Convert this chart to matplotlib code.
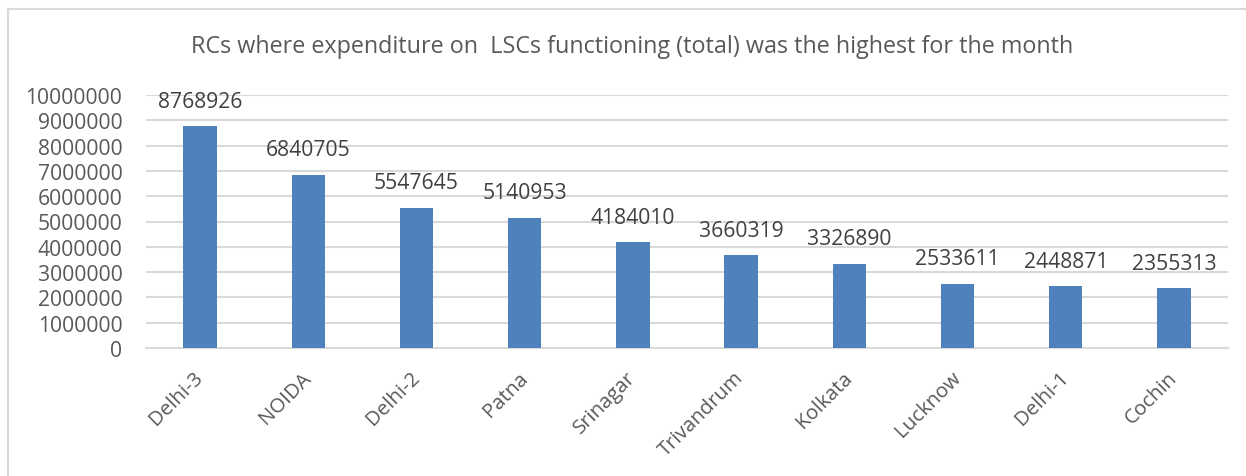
import matplotlib
matplotlib.use("Agg")
import matplotlib.pyplot as plt
import matplotlib.transforms as mtransforms
from matplotlib.lines import Line2D

# data
rcs = ["Delhi-3", "NOIDA", "Delhi-2", "Patna", "Srinagar",
       "Trivandrum", "Kolkata", "Lucknow", "Delhi-1", "Cochin"]
expenditure = [8768926, 6840705, 5547645, 5140953, 4184010,
               3660319, 3326890, 2533611, 2448871, 2355313]
yticks = list(range(0, 10000001, 1000000))

title = "RCs where expenditure on  LSCs functioning (total) was the highest for the month"

plt.rcParams["font.family"] = ["Open Sans", "DejaVu Sans"]

W, H = 1246, 477
fig = plt.figure(figsize=(W / 100, H / 100), dpi=100)
ax = fig.add_axes([146 / W, 1 - 349 / H, (1228 - 146) / W, (349 - 96) / H])

x = range(len(rcs))
ax.bar(x, expenditure, width=0.31, color="#4f81bd", zorder=3)
ax.set_xlim(-0.5, len(rcs) - 0.5)
ax.set_ylim(0, 10000000)
ax.set_yticks(yticks)
ax.set_yticklabels([str(v) for v in yticks], fontsize=15.2, color="#595959")
ax.yaxis.grid(True, color="#d9d9d9", lw=1.5, zorder=0)
ax.tick_params(axis="both", length=0)
ax.tick_params(axis="y", pad=17)

for s in ["top", "right", "left"]:
    ax.spines[s].set_visible(False)
ax.spines["bottom"].set_color("#d9d9d9")
ax.spines["bottom"].set_linewidth(1.5)

ax.set_xticks(list(x))
ax.set_xticklabels(rcs, rotation=45, ha="right", va="center",
                   rotation_mode="anchor", fontsize=14.7, color="#595959")
ax.tick_params(axis="x", pad=19)
off = mtransforms.ScaledTranslation(0, 0, fig.dpi_scale_trans)
for lab in ax.get_xticklabels():
    lab.set_transform(lab.get_transform() + off)

for i, v in enumerate(expenditure):
    ax.annotate(str(v), (i, v), xytext=(0, 18), textcoords="offset points",
                ha="center", va="center", fontsize=15.2, color="#404040")

fig.text(632 / W, 1 - 47 / H, title, ha="center", va="center",
         fontsize=16.8, color="#595959")

# chart area border
fig.add_artist(Line2D([8 / W, 8 / W], [0, 1 - 10 / H], color="#d9d9d9", lw=1.5))
fig.add_artist(Line2D([8 / W, 1], [1 - 10 / H, 1 - 10 / H], color="#d9d9d9", lw=1.5))

fig.savefig("out.png", dpi=100)
